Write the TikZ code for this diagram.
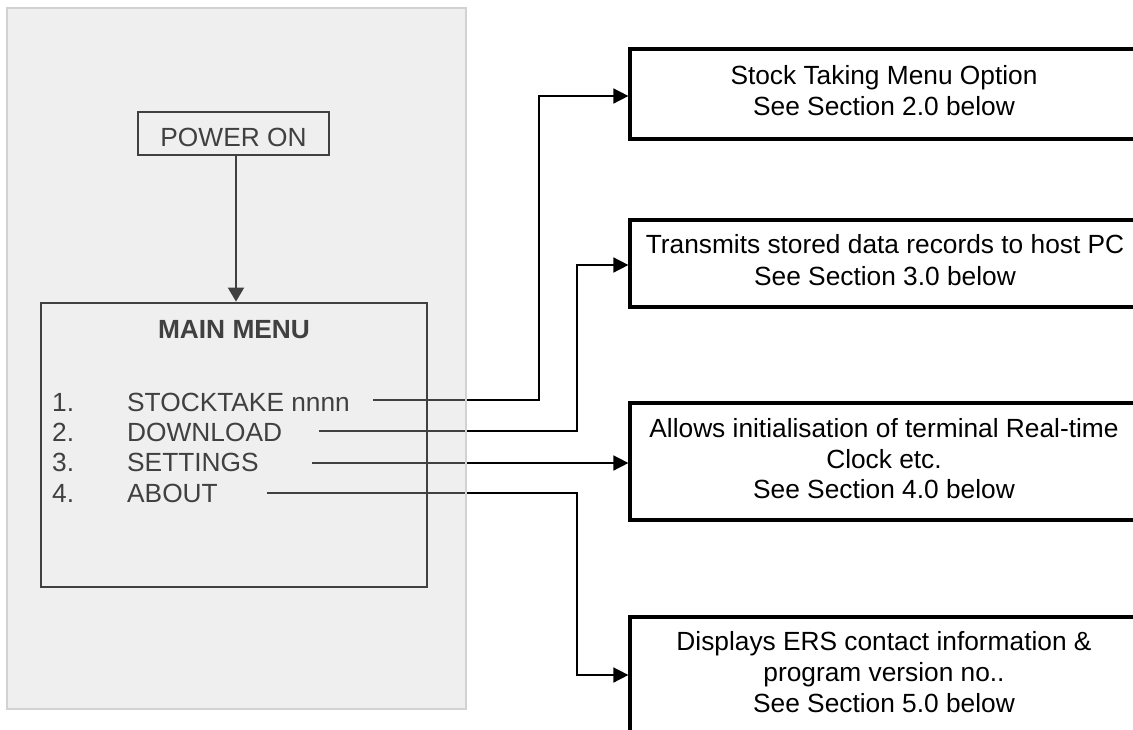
\documentclass[tikz,border=0pt]{standalone}
\usepackage{fontspec}
\setmainfont{Liberation Sans}
\usetikzlibrary{arrows.meta}
\definecolor{panelfill}{RGB}{204,204,204}
\definecolor{panelline}{RGB}{210,210,210}
\begin{document}
\begin{tikzpicture}[x=1pt,y=-1pt,
  txt/.style={inner sep=0pt, font=\fontsize{26.3}{31}\selectfont},
  leftbox/.style={draw=black, line width=2.8pt, inner sep=0pt},
  rightbox/.style={draw=black, line width=3.2pt, minimum width=508pt, inner sep=0pt},
  conn/.style={line width=1.6pt, -{Triangle[length=15pt,width=15pt]}}]
\useasboundingbox (0,0) rectangle (1133,729);
\clip (0,0) rectangle (1133,729);
\fill[white] (0,0) rectangle (1133,729);

% left side
\node[leftbox, txt, minimum width=191pt, minimum height=43pt, text height=25pt, text depth=0pt] (pon) at (233.5,133.5) {POWER ON};
\node[leftbox, minimum width=386pt, minimum height=284pt] (mm) at (234,445) {};
\node[txt, anchor=base] (mmt) at (234,338.3) {\textbf{MAIN MENU}};
\node[txt, anchor=base west] (n1) at (52,411.7) {1.};
\node[txt, anchor=base west] (n2) at (52,441.7) {2.};
\node[txt, anchor=base west] (n3) at (52,471.7) {3.};
\node[txt, anchor=base west] (n4) at (52,502.7) {4.};
\node[txt, anchor=base west] (i1) at (127,411.7) {STOCKTAKE nnnn};
\node[txt, anchor=base west] (i2) at (127,441.7) {DOWNLOAD};
\node[txt, anchor=base west] (i3) at (127,471.7) {SETTINGS};
\node[txt, anchor=base west] (i4) at (127,502.7) {ABOUT};
\draw[line width=2pt, -{Triangle[length=14pt,width=16pt]}] ([xshift=2.5pt]pon.south) -- ([xshift=2pt]mm.north);

% right boxes
\node[rightbox, minimum height=90pt] (b1) at (884,94) {};
\node[rightbox, minimum height=87pt] (b2) at (884,263.5) {};
\node[rightbox, minimum height=117pt] (b3) at (884,461.5) {};
\node[rightbox, minimum height=143pt] (b4) at (884,688.5) {};

\node[txt, anchor=base] (t1a) at (884,84) {Stock Taking Menu Option};
\node[txt, anchor=base] (t1b) at (884,115) {See Section 2.0 below};
\node[txt, anchor=base] (t2a) at (885,253.3) {Transmits stored data records to host PC};
\node[txt, anchor=base] (t2b) at (885,285) {See Section 3.0 below};
\node[txt, anchor=base] (t3a) at (884,437.3) {Allows initialisation of terminal Real-time};
\node[txt, anchor=base] (t3b) at (884,468.3) {Clock etc.};
\node[txt, anchor=base] (t3c) at (884,498.3) {See Section 4.0 below};
\node[txt, anchor=base] (t4a) at (884,650) {Displays ERS contact information \&};
\node[txt, anchor=base] (t4b) at (884,681.7) {program version no..};
\node[txt, anchor=base] (t4c) at (884,712.7) {See Section 5.0 below};

% connectors
\coordinate (s1) at (373,400);
\coordinate (k1) at (539,96);
\coordinate (s2) at (319,431);
\coordinate (k2) at (577,265);
\coordinate (s3) at (312,463);
\coordinate (s4) at (267,493);
\coordinate (k4) at (577,675);
\draw[conn] (s1) -| (k1) -- (k1 -| b1.west);
\draw[conn] (s2) -| (k2) -- (k2 -| b2.west);
\draw[conn] (s3) -- (s3 -| b3.west);
\draw[conn] (s4) -| (k4) -- (k4 -| b4.west);

% grey panel overlay
\fill[panelfill, fill opacity=0.314] (7,8) rectangle (466,709);
\draw[panelline, line width=1.4pt] (7,8) rectangle (466,709);
\end{tikzpicture}
\end{document}
